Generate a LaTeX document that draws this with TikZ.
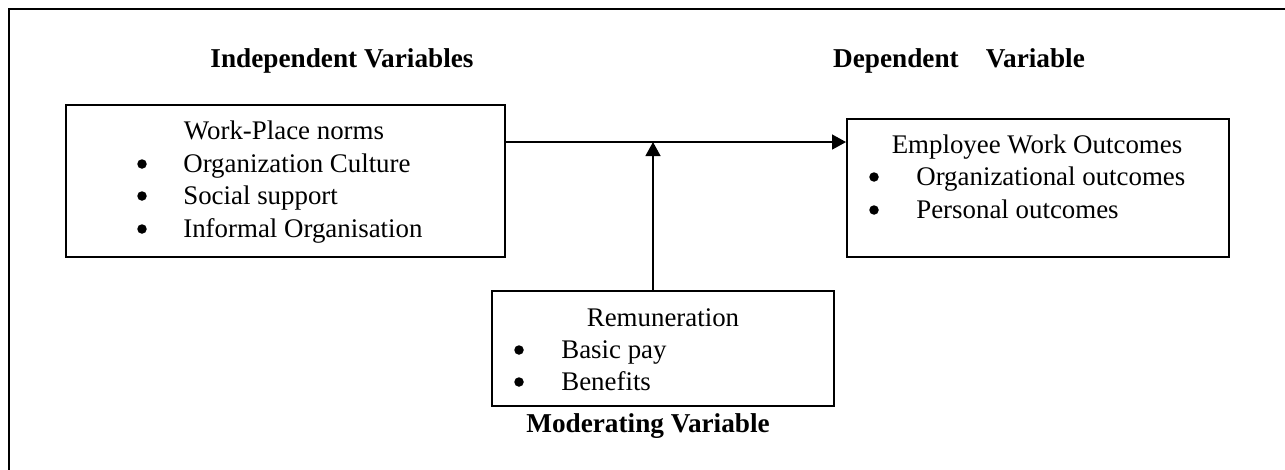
\documentclass[tikz,border=0pt]{standalone}
\usepackage{fontspec}
\setmainfont{Liberation Serif}
\usetikzlibrary{arrows.meta}
\usetikzlibrary{positioning}
\tikzset{
    box/.style={
        draw,
        line width=1.1pt,
        inner sep=0pt
    },
    txt/.style={
        font=\fontsize{15.3}{18}\selectfont,
        inner sep=0pt,
        anchor=base west
    },
    head/.style={
        font=\fontsize{15.3}{18}\selectfont,
        inner sep=0pt,
        anchor=base
    },
    bul/.style={
        circle,
        fill,
        minimum size=0.19cm,
        inner sep=0pt
    },
    lbl/.style={
        font=\fontsize{15.5}{18}\selectfont\bfseries,
        inner sep=0pt,
        anchor=base
    },
    flow/.style={
        line width=0.8pt,
        -{Triangle[length=0.28cm,width=0.3cm]}
    }
}

\begin{document}
\begin{tikzpicture}[x=0.02cm,y=-0.02cm]
\useasboundingbox (0,0) rectangle (1285,470);
% frame
\draw[line width=1.7pt] (1285,9) -- (9,9) -- (9,470);

% boxes
\node[box, minimum width=439*0.02cm, minimum height=152*0.02cm] (wp) at (285.5,181) {};
\node[box, minimum width=382*0.02cm, minimum height=138*0.02cm] (ewo) at (1038,188) {};
\node[box, minimum width=342*0.02cm, minimum height=115*0.02cm] (rem) at (663,348.5) {};

% titles
\node[lbl] (ind) at (342,67) {Independent Variables};
\node[lbl] (dep) at (959,67) {Dependent\quad Variable};
\node[lbl] (mod) at (648,432) {Moderating Variable};

% work-place norms
\node[head] (wph) at (284,139) {Work-Place norms};
\node[bul] (wpb1) at (142,164) {};
\node[bul] (wpb2) at (142,196) {};
\node[bul] (wpb3) at (142,229) {};
\node[txt] (wp1) at (183,172) {Organization Culture};
\node[txt] (wp2) at (183,204) {Social support};
\node[txt] (wp3) at (183,237) {Informal Organisation};

% employee work outcomes
\node[head] (ewoh) at (1037,153) {Employee Work Outcomes};
\node[bul] (ewob1) at (874,177) {};
\node[bul] (ewob2) at (874,210) {};
\node[txt] (ewo1) at (916,185) {Organizational outcomes};
\node[txt] (ewo2) at (916,218) {Personal outcomes};

% remuneration
\node[head] (remh) at (663,326) {Remuneration};
\node[bul] (remb1) at (519,350) {};
\node[bul] (remb2) at (519,382) {};
\node[txt] (rem1) at (561,358) {Basic pay};
\node[txt] (rem2) at (561,390) {Benefits};

% arrows
\path (wp.north east) ++(0,38) coordinate (s);
\path (rem.north) ++(-10,0) coordinate (m);
\draw[flow] (s) -- (s -| ewo.west);
\draw[flow] (m) -- (m |- s);
\end{tikzpicture}
\end{document}
